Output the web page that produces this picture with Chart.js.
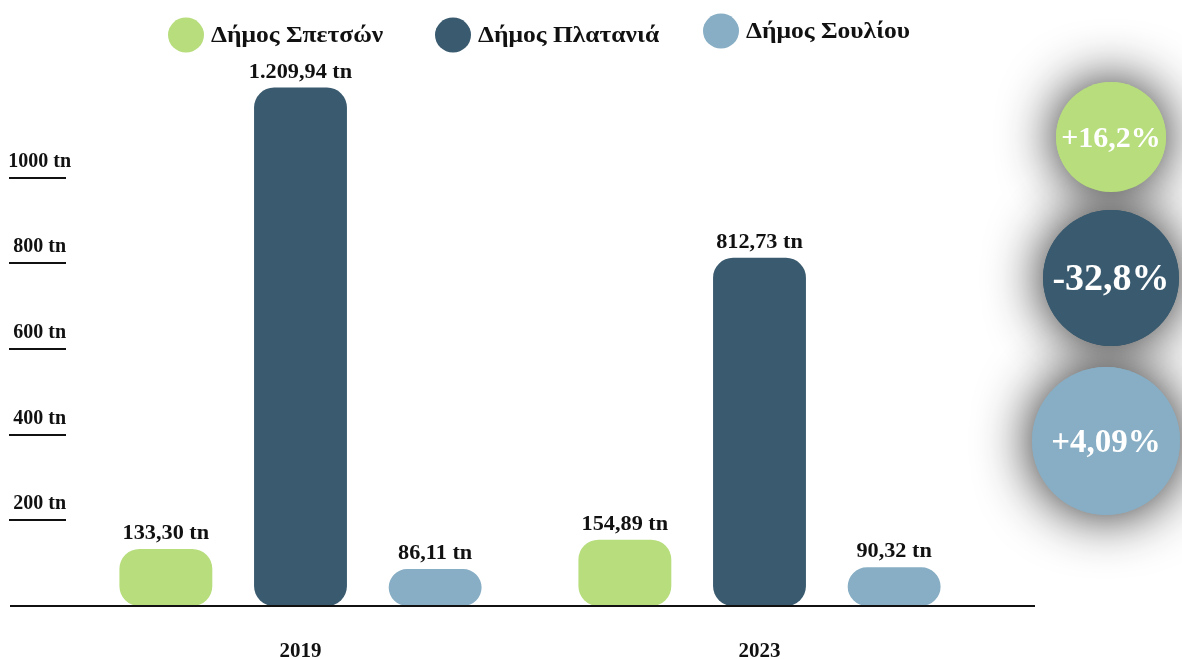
<!DOCTYPE html>
<html lang="el">
<head>
<meta charset="utf-8">
<script src="https://cdn.jsdelivr.net/npm/chart.js@4.4.0/dist/chart.umd.min.js"></script>
<style>
  html, body { margin: 0; padding: 0; background: #fff; }
  #wrap { width: 1182px; height: 659px; }
</style>
</head>
<body>
<div id="wrap"><canvas id="grafico" width="1182" height="659"></canvas></div>
<script>
// dados do gráfico
const years = ['2019', '2023'];
const municipalities = ['Δήμος Σπετσών', 'Δήμος Πλατανιά', 'Δήμος Σουλίου'];
const spetses = [133.30, 154.89];
const platanias = [1209.94, 812.73];
const souli = [86.11, 90.32];
const tickValues = [200, 400, 600, 800, 1000];
const changeLabels = ['+16,2%', '-32,8%', '+4,09%'];
const colors = ['#b7dd7d', '#3a5b6f', '#87aec4'];

const FONT = '"Liberation Serif", "Times New Roman", serif';

// formato grego: 1.209,94
function formatar(v) {
    const partes = v.toFixed(2).split('.');
    partes[0] = partes[0].replace(/\B(?=(\d{3})+(?!\d))/g, '.');
    return partes.join(',');
}

// texto um pouco esticado na horizontal, como no original
function textoLargo(ctx, txt, x, y, sx) {
    ctx.save();
    ctx.translate(x, y);
    ctx.scale(sx, 1);
    ctx.fillText(txt, 0, 0);
    ctx.restore();
}

// rótulos de valor por cima das barras
const valueLabels = {
    id: 'valueLabels',
    afterDatasetsDraw(chart) {
        const ctx = chart.ctx;
        ctx.save();
        ctx.font = 'bold 21px ' + FONT;
        ctx.fillStyle = '#111';
        ctx.textAlign = 'center';
        ctx.textBaseline = 'bottom';
        chart.data.datasets.forEach((ds, i) => {
            chart.getDatasetMeta(i).data.forEach((bar, j) => {
                textoLargo(ctx, formatar(ds.data[j]) + ' tn', bar.x, bar.y - 5, 1.06);
            });
        });
        ctx.restore();
    }
};

// linha de base e sublinhados dos ticks
const axisLines = {
    id: 'axisLines',
    afterDraw(chart) {
        const ctx = chart.ctx;
        const y = chart.scales.y;
        ctx.save();
        ctx.fillStyle = '#111';
        tickValues.forEach(v => {
            const py = Math.round(y.getPixelForValue(v));
            ctx.fillRect(9, py - 1, 57, 2);
        });
        const base = Math.round(y.getPixelForValue(0));
        ctx.fillRect(10, base - 1, 1025, 2);
        ctx.restore();
    }
};

// legenda desenhada à mão
const customLegend = {
    id: 'customLegend',
    afterDraw(chart, args, opts) {
        const ctx = chart.ctx;
        ctx.save();
        ctx.font = 'bold 23px ' + FONT;
        ctx.textBaseline = 'middle';
        ctx.textAlign = 'left';
        chart.data.datasets.forEach((ds, i) => {
            const it = opts.items[i];
            ctx.fillStyle = ds.backgroundColor;
            ctx.beginPath();
            ctx.ellipse(it.cx, it.cy, 18, 17.5, 0, 0, Math.PI * 2);
            ctx.fill();
            ctx.fillStyle = '#111';
            textoLargo(ctx, ds.label, it.cx + 25, it.cy + 1, 1.11);
        });
        ctx.restore();
    }
};

// círculos com a variação percentual
const changeCircles = {
    id: 'changeCircles',
    beforeDraw(chart, args, opts) {
        const ctx = chart.ctx;
        opts.circles.forEach((c, i) => {
            ctx.save();
            ctx.shadowColor = 'rgba(0,0,0,0.9)';
            ctx.shadowBlur = 55;
            ctx.fillStyle = colors[i];
            ctx.beginPath();
            ctx.arc(c.x, c.y, c.r, 0, Math.PI * 2);
            ctx.fill();
            ctx.restore();
        });
        opts.circles.forEach((c, i) => {
            ctx.save();
            ctx.fillStyle = colors[i];
            ctx.beginPath();
            ctx.arc(c.x, c.y, c.r, 0, Math.PI * 2);
            ctx.fill();
            ctx.fillStyle = '#fff';
            ctx.font = 'bold ' + c.size + 'px ' + FONT;
            ctx.textAlign = 'center';
            ctx.textBaseline = 'middle';
            ctx.fillText(changeLabels[i], c.x, c.y + 2);
            ctx.restore();
        });
    }
};

const ctx = document.getElementById('grafico').getContext('2d');
new Chart(ctx, {
    type: 'bar',
    data: {
        labels: years,
        datasets: [
            { label: municipalities[0], data: spetses, backgroundColor: colors[0] },
            { label: municipalities[1], data: platanias, backgroundColor: colors[1] },
            { label: municipalities[2], data: souli, backgroundColor: colors[2] }
        ]
    },
    options: {
        responsive: false,
        animation: false,
        layout: { padding: { top: 49, left: 0, right: 193, bottom: 0 } },
        datasets: {
            bar: {
                barPercentage: 0.69,
                categoryPercentage: 0.88,
                borderRadius: 20,
                borderSkipped: false
            }
        },
        scales: {
            x: {
                grid: { display: false, drawTicks: false },
                border: { display: false },
                ticks: { color: '#111', font: { family: FONT, size: 21, weight: 'bold' }, padding: 33 },
                afterFit(scale) { scale.height = 53; }
            },
            y: {
                min: 0,
                max: 1300,
                grid: { display: false, drawTicks: false },
                border: { display: false },
                afterBuildTicks(scale) { scale.ticks = tickValues.map(v => ({ value: v })); },
                afterFit(scale) { scale.width = 71; },
                ticks: {
                    color: '#111',
                    font: { family: FONT, size: 20, weight: 'bold' },
                    crossAlign: 'center',
                    padding: 0,
                    labelOffset: -16,
                    callback: v => v + ' tn'
                }
            }
        },
        plugins: {
            legend: { display: false },
            tooltip: { enabled: false },
            customLegend: {
                items: [
                    { cx: 186, cy: 35 },
                    { cx: 453, cy: 35 },
                    { cx: 721, cy: 31 }
                ]
            },
            changeCircles: {
                circles: [
                    { x: 1111, y: 137, r: 55, size: 30 },
                    { x: 1111, y: 278, r: 68, size: 38 },
                    { x: 1106, y: 441, r: 74, size: 33 }
                ]
            }
        }
    },
    plugins: [changeCircles, valueLabels, axisLines, customLegend]
});
</script>
</body>
</html>
